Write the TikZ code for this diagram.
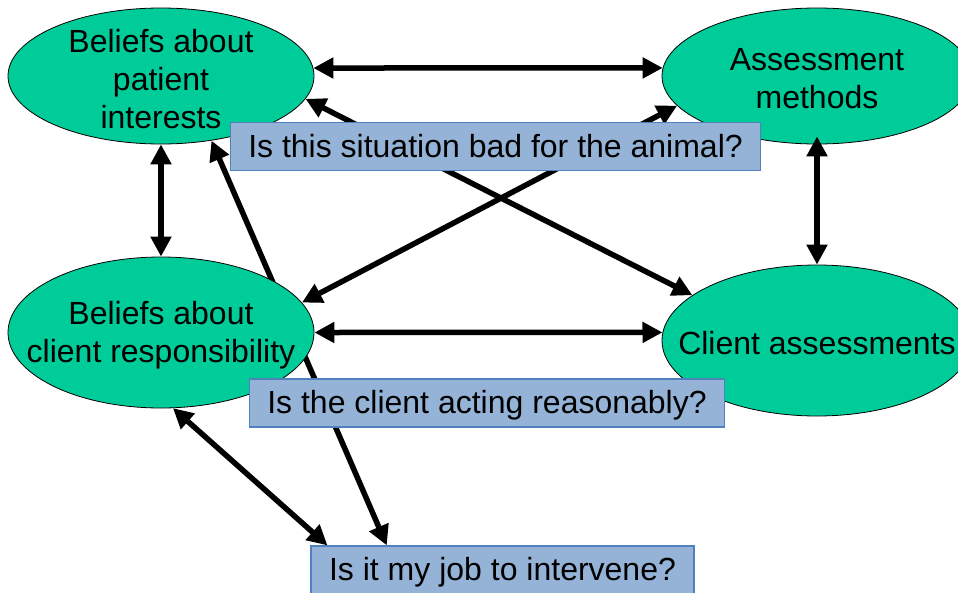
\documentclass[tikz,border=0pt]{standalone}
\usepackage{fontspec}
\setmainfont{Liberation Sans}
\usetikzlibrary{arrows.meta,shapes.geometric}
\pgfdeclarelayer{background}
\pgfsetlayers{background,main}
\definecolor{bubblegreen}{RGB}{0,204,153}
\definecolor{qfill}{RGB}{149,179,215}
\definecolor{qline}{RGB}{79,129,189}

\begin{document}
\begin{tikzpicture}[x = 1pt, y = -1pt,
                        bubble/.style = {ellipse, draw, fill = bubblegreen, line width = 0.8pt, inner sep = 0pt},
                        inside/.style = {align = center, yshift = -3pt, font = \fontsize{32}{38}\selectfont},
                        question/.style = {rectangle, draw = qline, fill = qfill, line width = 1.2pt, inner xsep = 18pt,
                                           inner ysep = 0pt, text height = 28pt, text depth = 7pt,
                                           minimum height = 48pt, font = \fontsize{32}{38}\selectfont},
                        link/.style = {line width = 5.5pt,
                                       {Triangle[length = 20pt, width = 20pt]}-{Triangle[length = 20pt, width = 20pt]}}]
      \useasboundingbox (0, 0) rectangle (958, 592);
      \node [bubble, minimum width = 306pt, minimum height = 136pt,
             label = {[inside]center:{Beliefs about\\patient\\interests}}] (tl) at (161, 76){};
      \node [bubble, minimum width = 310pt, minimum height = 136pt,
             label = {[inside]center:{Assessment\\methods}}] (tr) at (817, 76){};
      \node [bubble, minimum width = 306pt, minimum height = 151pt,
             label = {[inside]center:{Beliefs about\\client responsibility}}] (bl) at (161, 332.5){};
      \node [bubble, minimum width = 310pt, minimum height = 151pt,
             label = {[inside]center:{Client assessments}}] (br) at (817, 340.5){};
      \draw [link, shorten <= -8pt] (tr.south) -- (br.north);
      \node [question] (q1) at (495.5, 146.5){Is this situation bad for the animal?};
      \node [question] (q2) at (487, 403){Is the client acting reasonably?};
      \node [question] (q3) at (502.5, 570){Is it my job to intervene?};
      \begin{pgfonlayer}{background}
        \draw [link] (tl.3) -- (tr.177);
        \draw [link] (bl.east) -- (br.177);
        \draw [link] (tl.south) -- (bl.north);
        \draw [link] (tl.-9) -- (br.160);
        \draw [link] (tr.192) -- (bl.12);
        \draw [link] (tl.-52) -- (q3.168);
        \draw [link] (bl.-81) -- (q3.172);
      \end{pgfonlayer}
    \end{tikzpicture}
\end{document}
